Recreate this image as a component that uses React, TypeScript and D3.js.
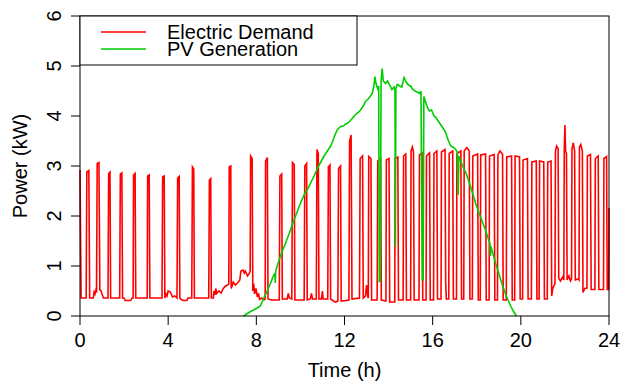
import * as d3 from "d3";

// hours, kW
const demandPoints: [number, number][] = [
  [0, 2.92], [0.05, 0.36], [0.28, 0.36], [0.31, 2.88], [0.4, 2.91], [0.44, 0.36], [0.6, 0.36],
  [0.64, 0.48], [0.68, 0.44], [0.72, 0.52], [0.75, 0.5], [0.78, 3.05], [0.86, 3.07], [0.9, 0.52],
  [0.96, 0.5], [1.0, 0.44], [1.06, 0.36], [1.27, 0.36], [1.3, 2.85], [1.36, 2.88], [1.39, 0.36],
  [1.8, 0.36], [1.83, 2.84], [1.9, 2.86], [1.93, 0.36], [2.0, 0.36], [2.05, 0.31], [2.3, 0.31],
  [2.36, 0.36], [2.41, 0.36], [2.43, 2.82], [2.5, 2.85], [2.53, 0.36], [3.05, 0.36], [3.07, 2.8],
  [3.14, 2.82], [3.17, 0.36], [3.72, 0.36], [3.75, 2.78], [3.82, 2.8], [3.85, 0.36], [3.9, 0.44],
  [3.95, 0.4], [4.0, 0.5], [4.1, 0.48], [4.2, 0.38], [4.3, 0.4], [4.4, 0.36], [4.43, 2.76],
  [4.5, 2.79], [4.53, 0.36], [4.6, 0.33], [4.7, 0.31], [4.85, 0.31], [4.9, 0.36], [5.07, 0.36],
  [5.1, 2.98], [5.16, 2.94], [5.19, 0.36], [5.84, 0.36], [5.87, 2.72], [5.93, 2.75], [5.96, 0.36],
  [6.05, 0.36], [6.08, 0.5], [6.12, 0.42], [6.16, 0.55], [6.2, 0.45], [6.3, 0.5], [6.4, 0.46],
  [6.5, 0.55], [6.6, 0.6], [6.7, 0.62], [6.75, 0.64], [6.77, 2.98], [6.84, 3.0], [6.86, 0.55],
  [6.9, 0.6], [6.95, 0.68], [7.05, 0.62], [7.15, 0.66], [7.25, 0.72], [7.3, 0.9], [7.4, 0.92],
  [7.45, 0.86], [7.5, 0.9], [7.6, 0.8], [7.68, 0.85], [7.72, 0.9], [7.74, 3.2], [7.81, 3.15],
  [7.84, 0.5], [7.88, 0.65], [7.92, 0.44], [7.98, 0.55], [8.05, 0.38], [8.1, 0.45], [8.15, 0.33],
  [8.25, 0.36], [8.35, 0.32], [8.4, 0.34], [8.42, 3.1], [8.5, 3.17], [8.53, 0.34], [8.7, 0.32],
  [9.04, 0.32], [9.07, 2.8], [9.15, 2.84], [9.18, 0.34], [9.4, 0.34], [9.45, 0.45], [9.5, 0.36],
  [9.61, 0.34], [9.64, 3.07], [9.72, 3.03], [9.75, 0.32], [10.17, 0.32], [10.2, 3.0], [10.28, 3.05],
  [10.31, 0.32], [10.45, 0.34], [10.5, 0.45], [10.55, 0.34], [10.72, 0.34], [10.75, 3.33],
  [10.81, 3.25], [10.84, 0.34], [10.95, 0.34], [11.0, 0.5], [11.03, 0.34], [11.24, 0.34],
  [11.27, 2.98], [11.34, 3.02], [11.37, 0.34], [11.5, 0.3], [11.6, 0.28], [11.7, 0.3], [11.73, 2.95],
  [11.82, 3.0], [11.85, 0.3], [12.2, 0.32], [12.23, 3.5], [12.3, 3.62], [12.34, 0.34], [12.68, 0.36],
  [12.71, 3.15], [12.82, 3.2], [12.85, 0.36], [12.95, 0.4], [13.0, 0.62], [13.05, 0.4], [13.08, 0.36],
  [13.1, 3.19], [13.2, 3.15], [13.23, 0.32], [13.48, 0.32], [13.51, 3.1], [13.64, 3.15], [13.67, 0.32],
  [13.88, 0.3], [13.9, 3.12], [14.02, 3.15], [14.05, 0.28], [14.28, 0.28], [14.3, 3.15], [14.42, 3.18],
  [14.45, 0.32], [14.66, 0.32], [14.68, 3.2], [14.78, 3.24], [14.81, 0.32], [15.0, 0.32], [15.02, 3.3],
  [15.08, 3.38], [15.13, 3.28], [15.16, 0.32], [15.38, 0.32], [15.4, 3.22], [15.52, 3.26], [15.55, 0.32],
  [15.7, 0.32], [15.72, 3.2], [15.86, 3.26], [15.89, 0.32], [16.04, 0.32], [16.06, 3.25], [16.19, 3.3],
  [16.22, 0.34], [16.38, 0.34], [16.4, 3.28], [16.56, 3.33], [16.59, 0.66], [16.62, 0.34], [16.73, 0.34],
  [16.75, 3.25], [16.91, 3.3], [16.94, 0.34], [17.08, 0.34], [17.1, 3.25], [17.28, 3.3], [17.31, 0.34],
  [17.41, 0.34], [17.43, 3.3], [17.55, 3.37], [17.66, 3.3], [17.69, 0.34], [17.8, 0.34], [17.82, 3.2],
  [18.04, 3.24], [18.07, 0.32], [18.16, 0.32], [18.18, 3.22], [18.4, 3.24], [18.43, 0.32], [18.56, 0.32],
  [18.58, 3.2], [18.79, 3.23], [18.82, 0.32], [18.94, 0.32], [18.96, 3.22], [19.05, 3.3], [19.17, 3.24],
  [19.2, 0.32], [19.34, 0.32], [19.36, 3.18], [19.58, 3.2], [19.61, 0.32], [19.72, 0.32], [19.74, 3.2],
  [19.94, 3.18], [19.97, 0.34], [20.08, 0.34], [20.1, 3.12], [20.3, 3.15], [20.33, 0.34], [20.48, 0.34],
  [20.5, 3.08], [20.7, 3.1], [20.73, 0.34], [20.83, 0.34], [20.85, 3.1], [21.04, 3.08], [21.07, 0.34],
  [21.2, 0.34], [21.22, 3.08], [21.37, 3.1], [21.4, 0.4], [21.45, 0.55], [21.52, 0.62], [21.55, 0.65],
  [21.57, 3.3], [21.62, 3.4], [21.69, 3.35], [21.72, 0.75], [21.8, 0.7], [21.9, 0.78], [21.95, 0.72],
  [21.97, 3.3], [22.0, 3.82], [22.03, 3.3], [22.07, 3.25], [22.1, 0.72], [22.18, 0.8], [22.25, 0.7],
  [22.3, 0.74], [22.32, 3.35], [22.38, 3.46], [22.44, 3.3], [22.47, 0.72], [22.6, 0.74], [22.64, 0.72],
  [22.66, 3.38], [22.72, 3.43], [22.79, 3.3], [22.82, 0.47], [22.9, 0.55], [23.0, 0.56], [23.02, 3.2],
  [23.16, 3.23], [23.19, 0.53], [23.36, 0.53], [23.38, 3.15], [23.51, 3.2], [23.54, 0.53], [23.75, 0.53],
  [23.77, 3.15], [23.89, 3.19], [23.92, 0.53], [23.99, 0.53], [24, 2.16],
];

const pvPoints: [number, number][] = [
  [7.42, 0], [7.7, 0.08], [8.0, 0.15], [8.18, 0.2], [8.3, 0.32], [8.41, 0.42], [8.55, 0.56],
  [8.64, 0.65], [8.75, 0.78], [8.84, 0.86], [8.86, 0.66], [8.88, 0.9], [9.0, 1.07], [9.09, 1.19],
  [9.2, 1.32], [9.32, 1.45], [9.45, 1.6], [9.55, 1.72], [9.65, 1.85], [9.77, 1.99], [9.9, 2.14],
  [10.0, 2.25], [10.1, 2.36], [10.2, 2.45], [10.3, 2.52], [10.4, 2.6], [10.53, 2.72], [10.62, 2.8],
  [10.7, 2.88], [10.76, 2.95], [10.85, 3.02], [10.95, 3.1], [11.06, 3.19], [11.15, 3.25], [11.25, 3.32],
  [11.36, 3.39], [11.45, 3.48], [11.55, 3.6], [11.67, 3.72], [11.75, 3.76], [11.82, 3.79], [11.95, 3.8],
  [12.05, 3.84], [12.12, 3.85], [12.25, 3.9], [12.35, 3.95], [12.42, 3.99], [12.55, 4.05], [12.65, 4.08],
  [12.73, 4.12], [12.85, 4.2], [12.95, 4.29], [13.05, 4.33], [13.15, 4.38], [13.26, 4.45], [13.33, 4.59],
  [13.38, 4.79], [13.43, 4.65], [13.5, 4.55], [13.55, 4.6], [13.58, 0.69], [13.62, 0.7], [13.66, 4.7],
  [13.71, 4.95], [13.76, 4.7], [13.86, 4.65], [13.95, 4.7], [14.05, 4.62], [14.15, 4.53], [14.25, 4.58],
  [14.29, 4.5], [14.31, 1.39], [14.33, 4.55], [14.4, 4.63], [14.5, 4.6], [14.6, 4.58], [14.7, 4.77],
  [14.8, 4.68], [14.9, 4.62], [15.0, 4.6], [15.1, 4.53], [15.2, 4.5], [15.3, 4.48], [15.42, 4.45],
  [15.47, 4.5], [15.53, 0.72], [15.57, 0.72], [15.6, 4.39], [15.68, 4.28], [15.76, 4.17], [15.85, 4.1],
  [15.95, 4.12], [16.06, 4.0], [16.15, 3.97], [16.25, 3.9], [16.36, 3.83], [16.48, 3.75], [16.59, 3.67],
  [16.7, 3.52], [16.82, 3.4], [16.95, 3.37], [17.05, 3.33], [17.12, 3.27], [17.16, 2.42], [17.19, 3.2],
  [17.27, 3.1], [17.38, 2.98], [17.5, 2.87], [17.6, 2.75], [17.73, 2.57], [17.85, 2.4], [17.95, 2.25],
  [18.07, 2.1], [18.18, 1.97], [18.3, 1.83], [18.41, 1.7], [18.52, 1.55], [18.6, 1.45], [18.62, 1.2],
  [18.64, 1.39], [18.75, 1.22], [18.86, 1.05], [18.98, 0.88], [19.09, 0.72], [19.2, 0.57], [19.32, 0.42],
  [19.44, 0.3], [19.55, 0.19], [19.67, 0.09], [19.77, 0.02], [19.8, 0],
];

const xTicks = [0, 4, 8, 12, 16, 20, 24];
const yTicks = [0, 1, 2, 3, 4, 5, 6];
const seriesNames = ["Electric Demand", "PV Generation"];
const seriesColors = ["#ff0000", "#00cd00"];

const width = 624;
const height = 381;
const left = 80;
const right = 609;
const top = 16;
const bottom = 316;
const font = "'Liberation Sans', Arial, Helvetica, sans-serif";

export default function App() {
  const x = d3.scaleLinear().domain([0, 24]).range([left, right]);
  const y = d3.scaleLinear().domain([0, 6]).range([bottom, top]);
  const line = d3
    .line<[number, number]>()
    .x((d) => x(d[0]))
    .y((d) => y(d[1]));

  return (
    <svg
      width={width}
      height={height}
      style={{ position: "absolute", left: 0, top: 0, background: "white" }}
      fontFamily={font}
    >
      <path d={line(demandPoints) ?? ""} fill="none" stroke={seriesColors[0]} strokeWidth={1.6} />
      <path d={line(pvPoints) ?? ""} fill="none" stroke={seriesColors[1]} strokeWidth={1.6} />

      {/* frame */}
      <rect x={left} y={top} width={right - left} height={bottom - top} fill="none" stroke="black" strokeWidth={1} />

      {/* x axis */}
      {xTicks.map((t) => (
        <g key={"x" + t}>
          <line x1={x(t)} x2={x(t)} y1={bottom} y2={bottom + 9} stroke="black" />
          <text x={x(t)} y={bottom + 31} fontSize={20} textAnchor="middle">
            {t}
          </text>
        </g>
      ))}
      <text x={(left + right) / 2} y={377} fontSize={20} textAnchor="middle">
        Time (h)
      </text>

      {/* y axis */}
      {yTicks.map((t) => (
        <g key={"y" + t}>
          <line x1={left - 9} x2={left} y1={y(t)} y2={y(t)} stroke="black" />
          <text
            transform={`translate(${left - 19},${y(t)}) rotate(-90)`}
            fontSize={20}
            textAnchor="middle"
          >
            {t}
          </text>
        </g>
      ))}
      <text transform={`translate(27,${(top + bottom) / 2}) rotate(-90)`} fontSize={20} textAnchor="middle">
        Power (kW)
      </text>

      {/* legend */}
      <rect x={left} y={top} width={277} height={49} fill="white" stroke="black" strokeWidth={1} />
      {seriesNames.map((name, i) => (
        <g key={name}>
          <line x1={101} x2={146} y1={32 + i * 17} y2={32 + i * 17} stroke={seriesColors[i]} strokeWidth={1.6} />
          <text x={167} y={39 + i * 17} fontSize={20}>
            {name}
          </text>
        </g>
      ))}
    </svg>
  );
}
